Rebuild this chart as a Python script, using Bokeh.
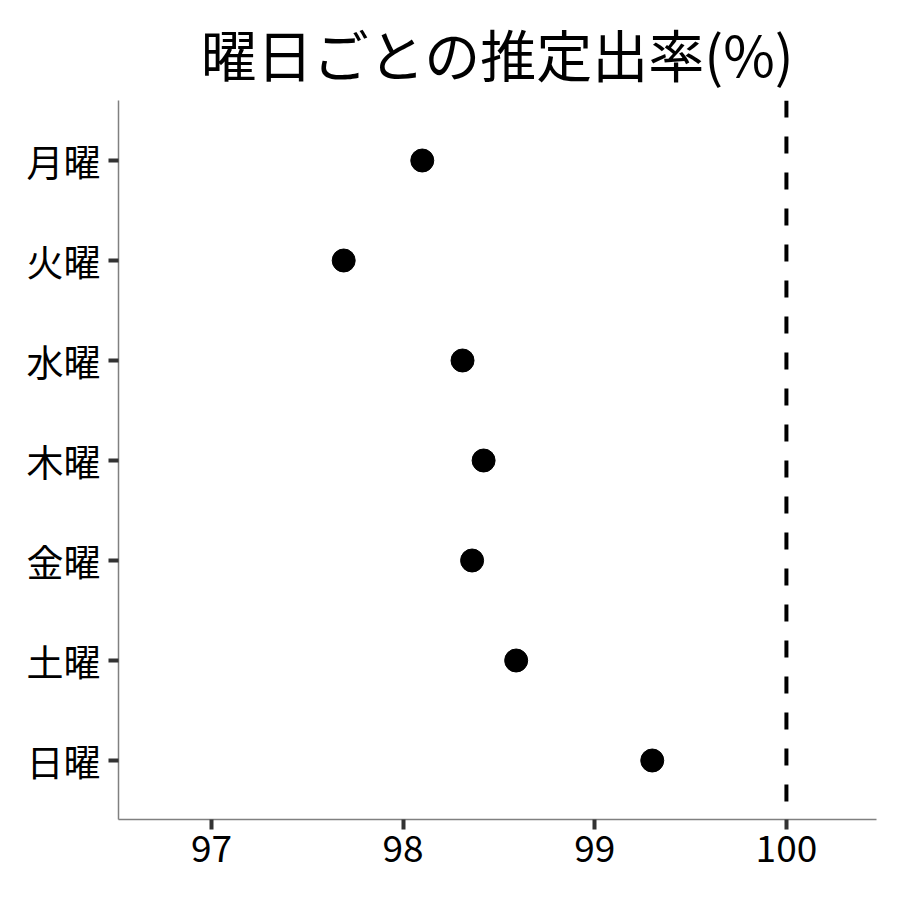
from bokeh.plotting import figure
from bokeh.models import Span, Range1d, FixedTicker, ColumnDataSource
from bokeh.embed import file_html
from bokeh.resources import INLINE

title_text = "曜日ごとの推定出率(%)"
days = ["月曜", "火曜", "水曜", "木曜", "金曜", "土曜", "日曜"]
rates = [98.10, 97.69, 98.31, 98.42, 98.36, 98.59, 99.30]
x_ticks = [97, 98, 99, 100]
ref_value = 100

ypos = [len(days) - i for i in range(len(days))]
src = ColumnDataSource(dict(x=rates, y=ypos, d=days))

FONT = "Noto Sans CJK JP"

p = figure(width=884, height=884, output_backend="svg", toolbar_location=None,
           x_range=Range1d(96.515, 100.47), y_range=Range1d(0.41, 7.6),
           min_border_left=118, min_border_right=8, min_border_top=100, min_border_bottom=65)
p.title.text = title_text
p.title.text_font = FONT
p.title.text_font_size = "56px"
p.title.text_font_style = "normal"
p.title.text_color = "black"
p.title.align = "center"
p.title.standoff = 16

p.scatter("x", "y", source=src, size=23, color="black")
p.add_layout(Span(location=ref_value, dimension="height", line_color="black",
                  line_width=4, line_dash="17 19"))

p.xgrid.visible = False
p.ygrid.visible = False
p.outline_line_color = None

for ax in (p.xaxis[0], p.yaxis[0]):
    ax.axis_line_color = "#808080"
    ax.axis_line_width = 1.5
    ax.major_tick_line_color = "#333333"
    ax.major_tick_line_width = 4
    ax.major_tick_out = 10
    ax.major_tick_in = 0
    ax.minor_tick_line_color = None
    ax.major_label_text_font = FONT
    ax.major_label_text_font_size = "37px"
    ax.major_label_text_color = "black"

p.xaxis.ticker = FixedTicker(ticks=x_ticks)
p.xaxis.major_label_standoff = 5
p.yaxis.ticker = FixedTicker(ticks=ypos)
p.yaxis.major_label_overrides = {y: d for y, d in zip(ypos, days)}
p.yaxis.major_label_standoff = 8

open("out.html", "w").write(file_html(p, INLINE))
